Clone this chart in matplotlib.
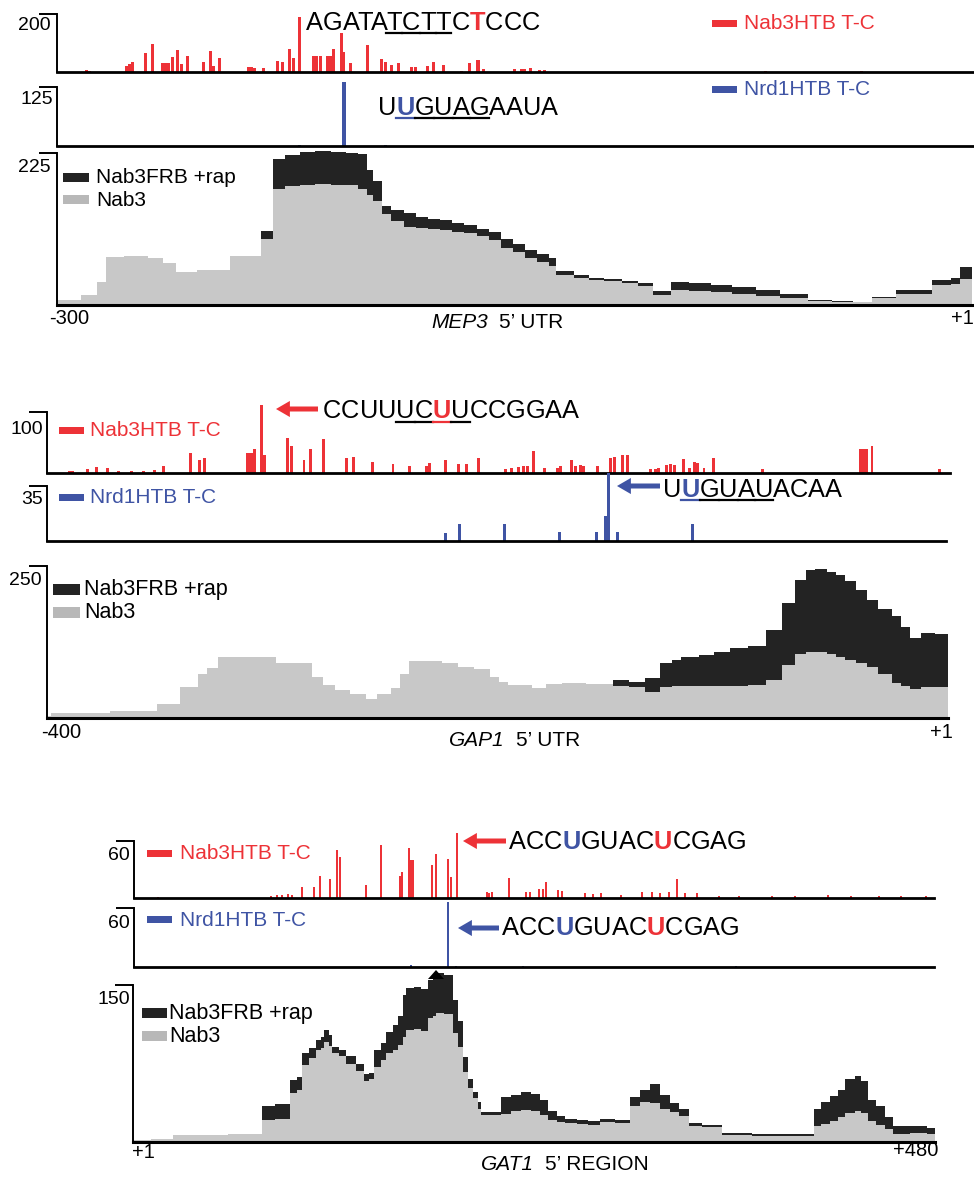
import matplotlib
matplotlib.use("Agg")
import matplotlib.pyplot as plt
from matplotlib.patches import Rectangle, FancyArrowPatch, Polygon
from matplotlib.lines import Line2D
from matplotlib.font_manager import FontProperties

plt.rcParams['font.family'] = ['Liberation Sans', 'DejaVu Sans']

W, H = 974, 1177
RED = '#ED3237'
BLUE = '#3F54A4'
DARK = '#232323'
LIGHT = '#C8C8C8'
LEG_GRAY = '#B8B8B8'

# ---------------- MEP3 ----------------
mep3_red_x = [-290.3, -289.2, -277, -276, -275.1, -270.8, -268.5, -265.4, -264.4, -263.4,
              -262, -260.3, -259.1, -257, -251.7, -249.6, -248.5, -246.4, -236.9, -236,
              -235.1, -232, -227.5, -225.7, -223.6, -222.2, -220.2, -215.7, -214.5, -213.3,
              -211, -210.1, -208.9, -206.5, -205.6, -203.3, -198, -193.1, -191.9, -190,
              -187.6, -183.3, -182.1, -178.2, -176.2, -172.9, -166.8, -164.4, -161.5, -159.7,
              -149.4, -147.3, -146.1, -144.3, -141.4, -139.7, -66.8, -35.2]
mep3_red_y = [6, 5, 21, 28, 35, 67, 95, 32, 32, 31,
              53, 77, 28, 56, 35, 71, 21, 48, 16, 16,
              15, 13, 39, 34, 81, 49, 191, 54, 56, 55,
              54, 54, 81, 136, 70, 30, 93, 44, 36, 23,
              30, 16, 16, 21, 36, 23, 5, 30, 41, 10,
              9, 10, 10, 13, 7, 6, 4, 3]
mep3_blue_x = [-220.2, -205.6, -191.9]
mep3_blue_y = [3, 136, 3]

mep3_pos = [-300, -292, -287, -284, -278, -270, -265, -261, -254, -243,
            -233, -229, -225, -220, -215, -210, -205, -201, -198, -196,
            -193, -190, -186, -182, -178, -174, -170, -166, -162, -158,
            -154, -150, -146, -142, -138, -136, -130, -125, -120, -114,
            -109, -104, -98, -92, -85, -78, -70, -62, -53, -45,
            -38, -32, -24, -18, -12, -6, -3, 1]
mep3_nab3 = [7, 15, 34, 71, 72, 70, 62, 49, 52, 73,
             98, 172, 176, 178, 179, 178, 177, 172, 163, 154,
             134, 124, 115, 114, 112, 111, 108, 106, 102, 96,
             85, 78, 70, 64, 58, 45, 40, 37, 35, 32,
             28, 15, 22, 21, 19, 17, 14, 10, 6, 5,
             4, 10, 17, 17, 29, 31, 39, 42]
mep3_rap = [7, 15, 34, 71, 72, 70, 62, 49, 52, 73,
            110, 216, 222, 226, 228, 227, 225, 223, 200, 184,
            147, 140, 136, 130, 128, 126, 122, 118, 113, 108,
            98, 90, 82, 76, 70, 50, 45, 40, 38, 35,
            33, 20, 34, 33, 30, 26, 22, 16, 7, 6,
            5, 12, 22, 22, 37, 40, 56, 58]

# ---------------- GAP1 ----------------
gap1_red_x = [-389.8, -388.5, -382, -377.8, -373.1, -368.1, -362.5, -357, -352, -348.1,
              -336.2, -332, -329.8, -311, -309.8, -308.6, -307.6, -304.6, -303.4, -293,
              -291.2, -285.6, -282.7, -276.8, -266.5, -263.6, -255, -246, -238.7, -231.2,
              -229.8, -222.8, -216.7, -213.1, -207.8, -195.9, -193.1, -190.3, -188.1, -186.2,
              -183.4, -178.4, -172.8, -171.4, -166.7, -164.8, -162.5, -161.1, -154.8, -149.2,
              -147.3, -144, -141.7, -131.4, -129.2, -127.8, -124.2, -122.3, -120.9, -116.6,
              -113.9, -112, -110.3, -107.6, -103.4, -81.4, -38.1, -37, -36, -35.3,
              -32.8, -2.8]
gap1_red_y = [3, 3, 6, 10, 9, 4, 3, 4, 5, 12,
              32, 22, 25, 33, 33, 33, 40, 112, 29, 58,
              44, 22, 40, 56, 24, 27, 18, 15, 12, 12,
              16, 22, 15, 14, 25, 7, 9, 10, 11, 12,
              36, 9, 9, 11, 21, 12, 13, 11, 11, 24,
              27, 29, 29, 7, 7, 8, 13, 14, 13, 23,
              9, 18, 17, 9, 24, 7, 39, 39, 40, 39,
              45, 7]
gap1_blue_x = [-222.8, -216.7, -196.4, -172, -155.4, -151.4, -150.2, -146.1, -112.8]
gap1_blue_y = [5.4, 10.7, 10.7, 5.7, 5.7, 16, 43, 5.7, 11]

gap1_pos = [-400, -398, -385, -372, -360, -351, -341, -333, -329, -324,
            -315, -306, -298, -290, -282, -277, -272, -265, -258, -253,
            -247, -243, -239, -230, -224, -217, -210, -203, -199, -195,
            -190, -184, -178, -171, -160, -148, -141, -134, -127, -122,
            -118, -110, -103, -96, -88, -80, -73, -67, -62, -58,
            -53, -49, -45, -40, -35, -30, -24, -20, -16, -11,
            -5, 1]
gap1_nab3 = [3, 9, 9, 11, 11, 23, 51, 73, 82, 101,
             101, 100, 90, 90, 68, 55, 46, 40, 32, 40,
             50, 73, 93, 93, 91, 84, 80, 68, 60, 54,
             55, 49, 56, 57, 56, 53, 51, 43, 51, 52,
             52, 53, 53, 53, 55, 62, 87, 106, 109, 109,
             106, 101, 96, 90, 84, 72, 57, 52, 48, 51,
             51, 51]
gap1_rap = [3, 9, 9, 11, 11, 23, 51, 73, 82, 101,
            101, 100, 90, 90, 68, 55, 46, 40, 32, 40,
            50, 73, 93, 93, 91, 84, 80, 68, 60, 54,
            55, 49, 56, 57, 56, 62, 60, 66, 90, 95,
            101, 104, 108, 115, 118, 145, 189, 227, 243, 245,
            240, 235, 225, 210, 194, 180, 167, 150, 131, 139,
            138, 135]

# ---------------- GAT1 ----------------
gat1_red_x = [15.8, 83.4, 86.7, 90.1, 93.4, 95.7, 102.1, 109.3, 112.5, 118.7,
              122.7, 124.7, 140.2, 149.2, 160.5, 161.7, 165.7, 166.9, 168.1, 179.8,
              182, 189, 191.2, 194.4, 212.2, 213.9, 215.6, 225.6, 235.7, 238.3,
              243.7, 245.7, 247.4, 255.1, 257.4, 270.8, 275.8, 280.8, 292.5, 305.3,
              310.9, 315.9, 321, 326, 331, 337.7, 351.1, 362.9, 382.9, 396.3,
              416.4, 429.8, 446.5, 459.9, 474.9]
gat1_red_y = [1, 2, 3, 3, 4, 3, 12, 12, 23, 20,
              51, 43, 14, 56, 23, 27, 53, 40, 40, 35,
              46, 41, 22, 68, 6, 5, 6, 21, 6, 6,
              9, 9, 17, 8, 7, 5, 4, 5, 3, 6,
              6, 5, 6, 20, 5, 5, 2, 2, 2, 2,
              3, 2, 2, 2, 2]
gat1_blue_x = [167, 189.4, 193.8, 234, 361]
gat1_blue_y = [2.5, 66, 1.5, 1.5, 1.5]

gat1_pos = [1, 12, 25, 40, 58, 70, 78, 86, 95, 99,
            102, 106, 110, 113, 115, 118, 120, 124, 128, 134,
            139, 142, 145, 149, 152, 156, 159, 162, 164, 169,
            173, 177, 180, 182, 187, 192, 195, 198, 201, 204,
            207, 209, 215, 221, 227, 233, 239, 244, 249, 254,
            259, 266, 273, 280, 289, 298, 304, 310, 316, 322,
            327, 333, 341, 353, 371, 391, 408, 412, 417, 422,
            426, 432, 436, 440, 445, 450, 455, 465, 475, 480]
gat1_nab3 = [2, 3, 7, 7, 8, 8, 21, 22, 47, 50,
             74, 80, 88, 90, 96, 92, 85, 82, 75, 68,
             58, 60, 72, 78, 85, 88, 93, 100, 107, 108,
             106, 118, 120, 123, 122, 104, 91, 67, 52, 42,
             32, 26, 26, 27, 30, 31, 30, 26, 21, 19,
             18, 17, 16, 19, 18, 34, 38, 37, 32, 29,
             25, 15, 14, 7, 6, 6, 15, 17, 20, 24,
             28, 30, 28, 20, 16, 12, 8, 9, 8, 8]
gat1_rap = [2, 3, 7, 7, 8, 8, 34, 36, 59, 62,
            85, 90, 97, 100, 107, 102, 91, 88, 82, 75,
            65, 66, 88, 95, 105, 112, 120, 140, 147, 148,
            146, 155, 158, 161, 160, 136, 116, 81, 60, 48,
            38, 29, 29, 43, 45, 48, 46, 40, 30, 25,
            22, 21, 20, 22, 21, 43, 50, 55, 45, 37,
            32, 18, 16, 9, 8, 8, 32, 38, 44, 50,
            60, 63, 58, 40, 34, 24, 15, 15, 13, 13]

fig = plt.figure(figsize=(W / 100, H / 100), dpi=100)
renderer = fig.canvas.get_renderer()


def fx(x):
    return x / W


def fy(y):
    return 1 - y / H


def text_width(s, size, style='normal'):
    fp = FontProperties(family=plt.rcParams['font.family'], size=size, style=style)
    return renderer.get_text_width_height_descent(s, fp, ismath=False)[0]


def make_axes(left, right, top, bottom, xlim, vmax, bottom_lw=2.0):
    ax = fig.add_axes([fx(left), fy(bottom), (right - left) / W, (bottom - top) / H])
    ax.set_xlim(*xlim)
    ax.set_ylim(0, vmax)
    ax.patch.set_visible(False)
    for s in ('top', 'right'):
        ax.spines[s].set_visible(False)
    ax.spines['left'].set_linewidth(1.4)
    ax.spines['bottom'].set_linewidth(bottom_lw)
    ax.spines['left'].set_bounds(0, vmax)
    ax.set_xticks([])
    ax.set_yticks([vmax])
    ax.set_yticklabels([])
    ax.tick_params(axis='y', direction='out', length=13, width=1.4)
    return ax


def value_label(x_right, y, s):
    fig.text(fx(x_right), fy(y), s, ha='right', va='center', fontsize=14)


def track(box, xlim, vmax, xs, ys, color, width):
    ax = make_axes(*box, xlim, vmax)
    ax.bar(xs, ys, width=width, color=color, linewidth=0, clip_on=False)
    return ax


def coverage(box, xlim, vmax, pos, rap, nab3):
    ax = make_axes(*box, xlim, vmax, bottom_lw=2.2)
    ax.fill_between(pos, rap, step='post', color=DARK, linewidth=0, clip_on=False)
    ax.fill_between(pos, nab3, step='post', color=LIGHT, linewidth=0, clip_on=False)
    return ax


def sequence(x0, base, s, size, marks, underline=None, ul_y=None):
    xs = [x0 + text_width(s[:i + 1], size) - text_width(s[i], size) for i in range(len(s))]
    for i, c in enumerate(s):
        fig.text(fx(xs[i]), fy(base), c, fontsize=size, color=marks.get(i, 'black'),
                 fontweight='bold' if i in marks else 'normal', ha='left', va='baseline')
    if underline:
        i0, i1 = underline
        for i in range(i0, i1 + 1):
            xb = xs[i + 1] if i < i1 else xs[i] + text_width(s[i], size)
            fig.add_artist(Line2D([fx(xs[i]), fx(xb)], [fy(ul_y), fy(ul_y)],
                                  color=marks.get(i, 'black'), lw=1.6,
                                  transform=fig.transFigure))


def arrow(x_tail, x_tip, y, color):
    fig.add_artist(FancyArrowPatch((fx(x_tail), fy(y)), (fx(x_tip), fy(y)),
                                   transform=fig.transFigure,
                                   arrowstyle='simple,head_length=0.5,head_width=0.58,tail_width=0.18',
                                   mutation_scale=20, color=color, lw=0,
                                   shrinkA=0, shrinkB=0))


def legend_item(x0, x1, y0, y1, color, label, tx, ty, size, tcolor='black'):
    fig.add_artist(Rectangle((fx(x0), fy(y1)), (x1 - x0) / W, (y1 - y0) / H,
                             transform=fig.transFigure, color=color, lw=0))
    fig.text(fx(tx), fy(ty), label, color=tcolor, fontsize=size, ha='left', va='center')


def gene_label(x0, y, gene, rest, size):
    fig.text(fx(x0), fy(y), gene, style='italic', fontsize=size, ha='left', va='center')
    w = text_width(gene, size, style='italic')
    fig.text(fx(x0 + w + 11), fy(y), rest, fontsize=size, ha='left', va='center')


# ================= MEP3 block =================
track((57, 974, 14, 72), (-300, 1.66), 200, mep3_red_x, mep3_red_y, RED, 1.0)
track((57, 974, 87, 146), (-300, 1.66), 125, mep3_blue_x, mep3_blue_y, BLUE, 1.1)
coverage((57, 972, 153, 305), (-300, 1), 225, mep3_pos, mep3_rap, mep3_nab3)
value_label(51, 25, '200')
value_label(53, 100, '125')
value_label(51, 167, '225')
sequence(306, 30, 'AGATATCTTCTCCC', 18.3, {10: RED}, (5, 8), 33)
sequence(378, 115, 'UUGUAGAAUA', 18.3, {1: BLUE}, (1, 5), 117.5)
legend_item(712, 737, 20, 27, RED, 'Nab3HTB T-C', 744, 23.5, 15, RED)
legend_item(712, 737, 86, 93, BLUE, 'Nrd1HTB T-C', 744, 89.5, 15, BLUE)
legend_item(63, 89, 173, 182, DARK, 'Nab3FRB +rap', 96, 177.5, 15)
legend_item(63, 89, 195, 204, LEG_GRAY, 'Nab3', 96, 200, 15)
fig.text(fx(69), fy(319), '-300', ha='center', va='center', fontsize=14.5)
fig.text(fx(974), fy(319), '+1', ha='right', va='center', fontsize=14.5)
gene_label(431, 322, 'MEP3', '5\u2019 UTR', 15)

# ================= GAP1 block =================
track((47, 950, 412, 473), (-400, 1.9), 100, gap1_red_x, gap1_red_y, RED, 1.3)
track((47, 946, 486, 541), (-400, -0.1), 35, gap1_blue_x, gap1_blue_y, BLUE, 1.3)
coverage((47, 948, 566, 718), (-400, 1), 250, gap1_pos, gap1_rap, gap1_nab3)
value_label(43, 430, '100')
value_label(43, 499, '35')
value_label(42, 580, '250')
arrow(318, 276, 409, RED)
sequence(323, 418, 'CCUUUCUUCCGGAA', 18.3, {6: RED}, (4, 7), 421.5)
arrow(660, 617, 486, BLUE)
sequence(663, 497, 'UUGUAUACAA', 18.3, {1: BLUE}, (1, 5), 500)
legend_item(59, 84, 427, 434, RED, 'Nab3HTB T-C', 90, 430.5, 15, RED)
legend_item(59, 84, 494, 501, BLUE, 'Nrd1HTB T-C', 90, 497.5, 15, BLUE)
legend_item(53, 80, 584, 595, DARK, 'Nab3FRB +rap', 84, 590, 15.5)
legend_item(53, 80, 607, 618, LEG_GRAY, 'Nab3', 84, 613, 15.5)
fig.text(fx(61), fy(732), '-400', ha='center', va='center', fontsize=14.5)
fig.text(fx(953), fy(732), '+1', ha='right', va='center', fontsize=14.5)
gene_label(449, 740, 'GAP1', '5\u2019 UTR', 15)

# ================= GAT1 block =================
track((134, 934, 841, 898), (1.5, 479.5), 60, gat1_red_x, gat1_red_y, RED, 1.2)
track((134, 934, 908, 967), (1.5, 479.5), 60, gat1_blue_x, gat1_blue_y, BLUE, 1.2)
coverage((133, 935, 985, 1142), (1, 480), 150, gat1_pos, gat1_rap, gat1_nab3)
value_label(130, 855, '60')
value_label(130, 923, '60')
value_label(130, 1000, '150')
arrow(506, 463, 841, RED)
sequence(509, 849, 'ACCUGUACUCGAG', 18.3, {3: BLUE, 8: RED})
arrow(499, 458, 928, BLUE)
sequence(502, 935, 'ACCUGUACUCGAG', 18.3, {3: BLUE, 8: RED})
legend_item(147, 172, 850, 857, RED, 'Nab3HTB T-C', 180, 853.5, 15, RED)
legend_item(147, 172, 916, 923, BLUE, 'Nrd1HTB T-C', 180, 920, 15, BLUE)
legend_item(142, 167, 1008, 1018, DARK, 'Nab3FRB +rap', 169, 1013, 15.5)
legend_item(142, 167, 1031, 1041, LEG_GRAY, 'Nab3', 169, 1036, 15.5)
fig.add_artist(Polygon([(fx(428), fy(979)), (fx(444), fy(979)), (fx(436), fy(970))],
                       closed=True, transform=fig.transFigure, color='black', lw=0))
fig.text(fx(143), fy(1152), '+1', ha='center', va='center', fontsize=14.5)
fig.text(fx(916), fy(1151), '+480', ha='center', va='center', fontsize=14.5)
gene_label(481, 1165, 'GAT1', '5\u2019 REGION', 15)

fig.savefig('out.png', dpi=100)
